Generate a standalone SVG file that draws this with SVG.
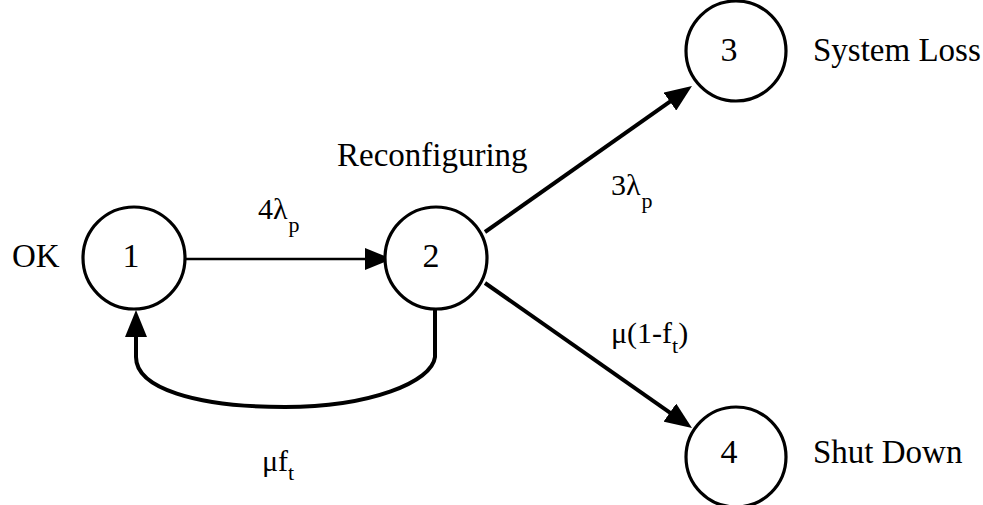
<svg xmlns="http://www.w3.org/2000/svg" width="983" height="505" viewBox="0 0 983 505">
  <style>
    .state { fill: #fff; stroke: #000; stroke-width: 3.2; }
    .num { font-family: "Liberation Serif", "Times New Roman", serif; font-size: 34px; fill: #000; text-anchor: middle; }
    .name { font-family: "Liberation Serif", "Times New Roman", serif; font-size: 33px; fill: #000; }
    .rate { font-family: "Liberation Serif", "Times New Roman", serif; font-size: 30px; fill: #000; }
    .sub { font-size: 22px; }
    .edge { fill: none; stroke: #000; stroke-linecap: butt; }
    .thin { stroke-width: 2.6; }
    .thick { stroke-width: 4; }
  </style>
  <defs>
    <!-- filled triangular head; tip sits 10px beyond the path end -->
    <marker id="head" markerUnits="userSpaceOnUse" viewBox="0 0 27 22" markerWidth="27" markerHeight="22" refX="17" refY="11" orient="auto">
      <path d="M0,0 L27,11 L0,22 z" fill="#000"/>
    </marker>
  </defs>

  <!-- transitions -->
  <g id="connectors">
    <path class="edge thin" d="M186,259 L382,259" marker-end="url(#head)"/>
    <path class="edge thick" d="M485,232 L683.8,91.8" marker-end="url(#head)"/>
    <path class="edge thick" d="M485,283 L683.8,422.3" marker-end="url(#head)"/>
    <path class="edge thick" d="M435,309 L435,357 C432,382 370,407 285,407 C195,407 136,388 136,357 L136,320" marker-end="url(#head)"/>
  </g>

  <!-- transition rates -->
  <g id="rates">
    <text class="rate" x="258" y="219">4λ<tspan class="sub" dx="1" dy="13">p</tspan></text>
    <text class="rate" x="611" y="195">3λ<tspan class="sub" dx="1" dy="13">p</tspan></text>
    <text class="rate" x="611" y="343">μ(1-f<tspan class="sub" dy="10">t</tspan><tspan dy="-10">)</tspan></text>
    <text class="rate" x="262" y="471">μf<tspan class="sub" dy="9">t</tspan></text>
  </g>

  <g id="state1">
    <circle class="state" cx="134" cy="258" r="51"/>
    <text class="num" x="131" y="267">1</text>
    <text class="name" x="12" y="267">OK</text>
  </g>

  <g id="state2">
    <circle class="state" cx="436" cy="258" r="51"/>
    <text class="num" x="431" y="267">2</text>
    <text class="name" x="337" y="166">Reconfiguring</text>
  </g>

  <g id="state3">
    <circle class="state" cx="736" cy="51" r="50"/>
    <text class="num" x="729" y="61">3</text>
    <text class="name" x="813" y="61">System Loss</text>
  </g>

  <g id="state4">
    <circle class="state" cx="736" cy="457" r="50"/>
    <text class="num" x="729" y="463">4</text>
    <text class="name" x="813" y="463">Shut Down</text>
  </g>
</svg>
